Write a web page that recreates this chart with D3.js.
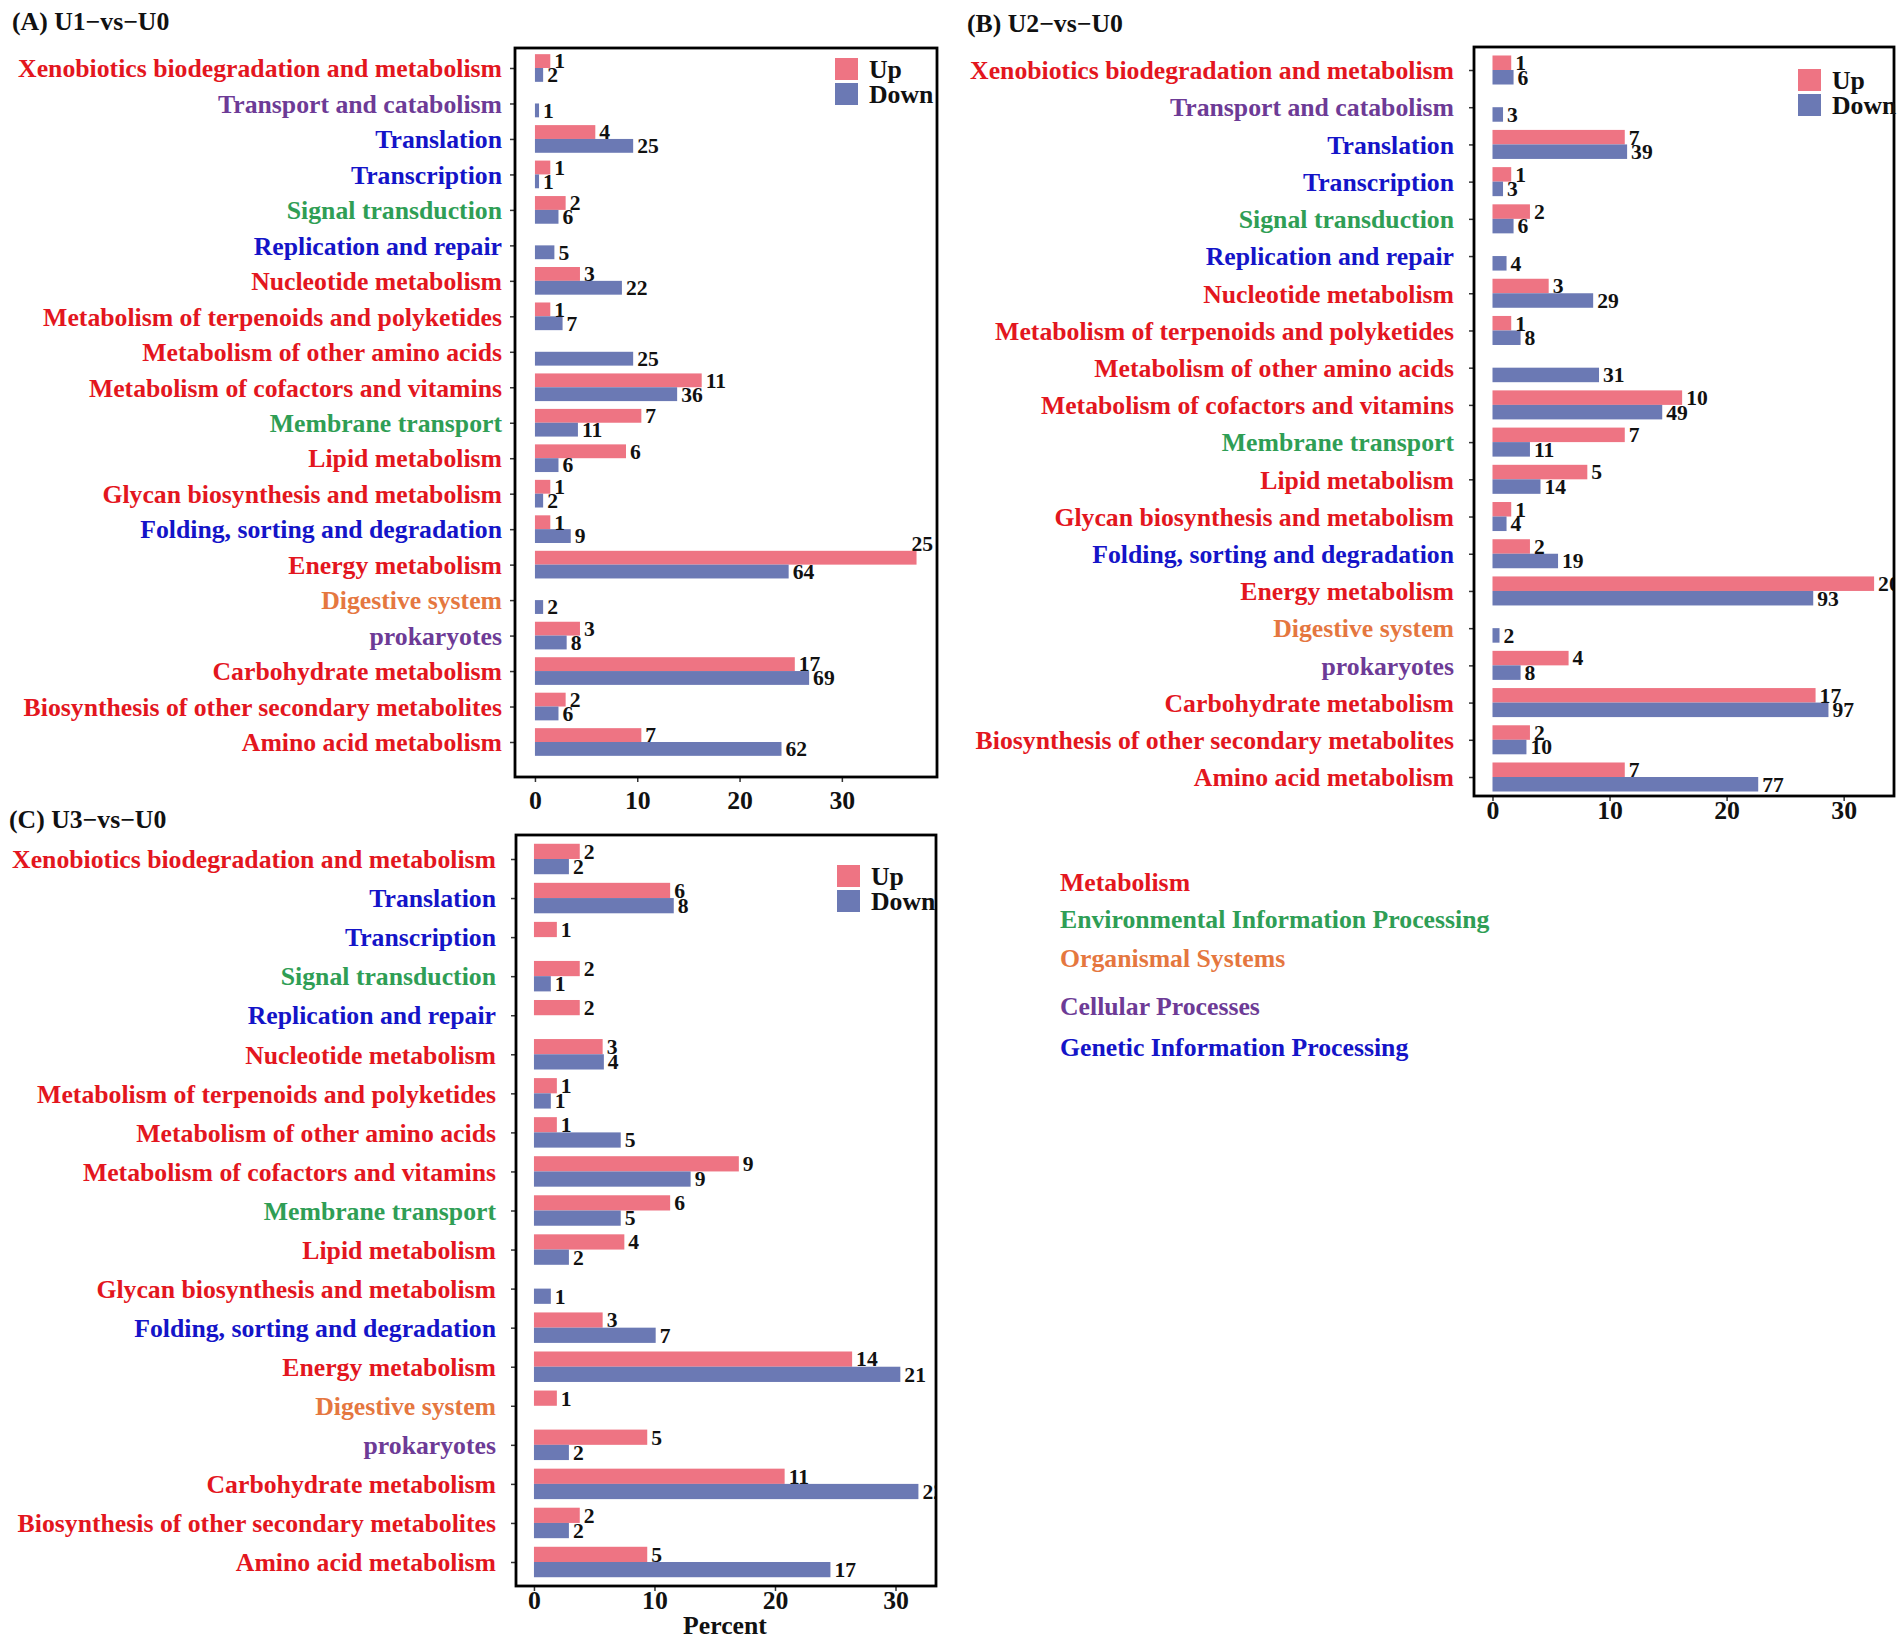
<!DOCTYPE html>
<html>
<head>
<meta charset="utf-8">
<script src="https://cdn.jsdelivr.net/npm/d3@7"></script>
<style>
  body { margin: 0; background: #fff; }
  svg text { font-family: 'Liberation Serif', 'Times New Roman', serif; font-weight: bold; }
</style>
</head>
<body>
<svg id="chart" width="1902" height="1647"></svg>
<script>
// KEGG level-2 categories (top to bottom)
const categoriesAB = [
  'Xenobiotics biodegradation and metabolism', 'Transport and catabolism', 'Translation',
  'Transcription', 'Signal transduction', 'Replication and repair', 'Nucleotide metabolism',
  'Metabolism of terpenoids and polyketides', 'Metabolism of other amino acids',
  'Metabolism of cofactors and vitamins', 'Membrane transport', 'Lipid metabolism',
  'Glycan biosynthesis and metabolism', 'Folding, sorting and degradation', 'Energy metabolism',
  'Digestive system', 'prokaryotes', 'Carbohydrate metabolism',
  'Biosynthesis of other secondary metabolites', 'Amino acid metabolism'
];
const categoriesC = categoriesAB.filter(d => d !== 'Transport and catabolism');

// level-1 groups and the colour used for their labels
const groups = ['Metabolism', 'Environmental Information Processing', 'Organismal Systems',
  'Cellular Processes', 'Genetic Information Processing'];
const groupColors = ['#e3161e', '#2f9e55', '#e5773f', '#6d3b96', '#1414c8'];
const categoryGroup = {
  'Xenobiotics biodegradation and metabolism': 'Metabolism',
  'Transport and catabolism': 'Cellular Processes',
  'Translation': 'Genetic Information Processing',
  'Transcription': 'Genetic Information Processing',
  'Signal transduction': 'Environmental Information Processing',
  'Replication and repair': 'Genetic Information Processing',
  'Nucleotide metabolism': 'Metabolism',
  'Metabolism of terpenoids and polyketides': 'Metabolism',
  'Metabolism of other amino acids': 'Metabolism',
  'Metabolism of cofactors and vitamins': 'Metabolism',
  'Membrane transport': 'Environmental Information Processing',
  'Lipid metabolism': 'Metabolism',
  'Glycan biosynthesis and metabolism': 'Metabolism',
  'Folding, sorting and degradation': 'Genetic Information Processing',
  'Energy metabolism': 'Metabolism',
  'Digestive system': 'Organismal Systems',
  'prokaryotes': 'Cellular Processes',
  'Carbohydrate metabolism': 'Metabolism',
  'Biosynthesis of other secondary metabolites': 'Metabolism',
  'Amino acid metabolism': 'Metabolism'
};

const series = ['Up', 'Down'];
const seriesColors = ['#ee7483', '#6b79b4'];
const xTicks = [0, 10, 20, 30];

// (A) U1-vs-U0 : gene counts (labels) and percent (bar length)
const upCountA   = [1, null, 4, 1, 2, null, 3, 1, null, 11, 7, 6, 1, 1, 25, null, 3, 17, 2, 7];
const upPctA     = [1.5, null, 5.9, 1.5, 3.0, null, 4.4, 1.5, null, 16.3, 10.4, 8.9, 1.5, 1.5, 37.3, null, 4.4, 25.4, 3.0, 10.4];
const downCountA = [2, 1, 25, 1, 6, 5, 22, 7, 25, 36, 11, 6, 2, 9, 64, 2, 8, 69, 6, 62];
const downPctA   = [0.8, 0.4, 9.6, 0.4, 2.3, 1.9, 8.5, 2.7, 9.6, 13.9, 4.2, 2.3, 0.8, 3.5, 24.8, 0.8, 3.1, 26.8, 2.3, 24.1];

// (B) U2-vs-U0
const upCountB   = [1, null, 7, 1, 2, null, 3, 1, null, 10, 7, 5, 1, 2, 20, null, 4, 17, 2, 7];
const upPctB     = [1.6, null, 11.3, 1.6, 3.2, null, 4.8, 1.6, null, 16.2, 11.3, 8.1, 1.6, 3.2, 32.6, null, 6.5, 27.6, 3.2, 11.3];
const downCountB = [6, 3, 39, 3, 6, 4, 29, 8, 31, 49, 11, 14, 4, 19, 93, 2, 8, 97, 10, 77];
const downPctB   = [1.8, 0.9, 11.5, 0.9, 1.8, 1.2, 8.6, 2.4, 9.1, 14.5, 3.2, 4.1, 1.2, 5.6, 27.4, 0.6, 2.4, 28.7, 2.9, 22.7];

// (C) U3-vs-U0
const upCountC   = [2, 6, 1, 2, 2, 3, 1, 1, 9, 6, 4, null, 3, 14, 1, 5, 11, 2, 5];
const upPctC     = [3.8, 11.3, 1.9, 3.8, 3.8, 5.7, 1.9, 1.9, 17.0, 11.3, 7.5, null, 5.7, 26.4, 1.9, 9.4, 20.8, 3.8, 9.4];
const downCountC = [2, 8, null, 1, null, 4, 1, 5, 9, 5, 2, 1, 7, 21, null, 2, 22, 2, 17];
const downPctC   = [2.9, 11.6, null, 1.4, null, 5.8, 1.4, 7.2, 13.0, 7.2, 2.9, 1.4, 10.1, 30.4, null, 2.9, 31.9, 2.9, 24.6];

const SX = 1.03;          // the source text is a touch wider than Times
const FS = 25;            // main font size
const FS_VAL = 21;        // bar value labels
const svg = d3.select('#chart');
const groupColor = d3.scaleOrdinal().domain(groups).range(groupColors);
const seriesColor = d3.scaleOrdinal().domain(series).range(seriesColors);

const panels = [
  { id: 'A', title: '(A) U1\u2212vs\u2212U0', titlePos: [12, 30],
    cats: categoriesAB, up: [upCountA, upPctA], down: [downCountA, downPctA],
    box: { l: 515, t: 48, r: 937, b: 777 }, padTop: 20, padBottom: 35, xDomain: [-1.95, 39.3],
    labelGap: 13, tickLabelOffset: 23, legend: [835, 58], fitLabels: true },
  { id: 'B', title: '(B) U2\u2212vs\u2212U0', titlePos: [967, 32],
    cats: categoriesAB, up: [upCountB, upPctB], down: [downCountB, downPctB],
    box: { l: 1474, t: 47, r: 1894, b: 796 }, padTop: 23, padBottom: 19, xDomain: [-1.58, 34.3],
    labelGap: 20, tickLabelOffset: 14, legend: [1798, 69], fitLabels: false },
  { id: 'C', title: '(C) U3\u2212vs\u2212U0', titlePos: [9, 828],
    cats: categoriesC, up: [upCountC, upPctC], down: [downCountC, downPctC],
    box: { l: 516, t: 835, r: 936, b: 1586 }, padTop: 24, padBottom: 24, xDomain: [-1.49, 33.36],
    labelGap: 20, tickLabelOffset: 14, legend: [837, 865], fitLabels: false, xTitle: 'Percent' }
];

const stretch = (sel, x, y) => sel.attr('x', 0).attr('y', 0)
  .attr('transform', `translate(${x},${y}) scale(${SX},1)`);

panels.forEach(p => {
  const { box } = p;
  const g = svg.append('g').attr('class', `panel panel-${p.id}`);

  const xScale = d3.scaleLinear().domain(p.xDomain).range([box.l, box.r]);
  const yScale = d3.scalePoint().domain(p.cats).range([box.t + p.padTop, box.b - p.padBottom]);
  const step = yScale.step();
  const barH = step * 0.39;

  // title
  g.append('text').text(p.title).attr('font-size', FS).attr('fill', '#111')
    .call(stretch, p.titlePos[0], p.titlePos[1]);

  // clip for marks / labels
  g.append('clipPath').attr('id', `clip-${p.id}`)
    .append('rect').attr('x', box.l).attr('y', box.t)
    .attr('width', box.r - box.l).attr('height', box.b - box.t);
  const plot = g.append('g').attr('clip-path', `url(#clip-${p.id})`);

  // flatten into bar records
  const rows = [];
  p.cats.forEach((c, i) => {
    if (p.up[1][i] != null) rows.push({ cat: c, s: 'Up', n: p.up[0][i], pct: p.up[1][i] });
    if (p.down[1][i] != null) rows.push({ cat: c, s: 'Down', n: p.down[0][i], pct: p.down[1][i] });
  });
  const barY = d => d.s === 'Up' ? yScale(d.cat) - barH : yScale(d.cat);

  plot.selectAll('.bar').data(rows).enter().append('rect')
    .attr('class', 'bar')
    .attr('x', xScale(0))
    .attr('y', barY)
    .attr('width', d => xScale(d.pct) - xScale(0))
    .attr('height', barH)
    .attr('fill', d => seriesColor(d.s));

  plot.selectAll('.val').data(rows).enter().append('text')
    .attr('class', 'val')
    .attr('font-size', FS_VAL)
    .attr('fill', '#111')
    .attr('dy', '0.35em')
    .text(d => d.n)
    .each(function (d) {
      let x = xScale(d.pct) + 4;
      let y = barY(d) + barH / 2;
      const w = this.getComputedTextLength() * SX;
      const sel = d3.select(this);
      if (p.fitLabels && x + w > box.r) {
        // squeeze label inside the panel, above its bar
        sel.attr('text-anchor', 'end');
        x = box.r - 4;
        y -= barH;
      }
      sel.call(stretch, x, y);
    });

  // y axis (category ticks + coloured labels)
  const yAxis = d3.axisLeft(yScale).tickSize(5).tickSizeOuter(0);
  const yAxisG = g.append('g').attr('transform', `translate(${box.l},0)`).call(yAxis);
  yAxisG.select('.domain').remove();
  yAxisG.selectAll('.tick line').attr('stroke', '#333').attr('stroke-width', 1.5);
  yAxisG.selectAll('.tick text')
    .attr('font-size', FS)
    .attr('font-family', null)
    .attr('fill', d => groupColor(categoryGroup[d]))
    .attr('dy', '0.35em')
    .each(function () {
      d3.select(this).call(stretch, -p.labelGap, 0);
    });

  // x axis
  const xAxis = d3.axisBottom(xScale).tickValues(xTicks).tickSize(5).tickSizeOuter(0);
  const xAxisG = g.append('g').attr('transform', `translate(0,${box.b})`).call(xAxis);
  xAxisG.select('.domain').remove();
  xAxisG.selectAll('.tick line').attr('stroke', '#333').attr('stroke-width', 1.5);
  xAxisG.selectAll('.tick text')
    .attr('font-size', FS)
    .attr('font-family', null)
    .attr('fill', '#111')
    .attr('dy', '0.35em')
    .each(function () {
      d3.select(this).call(stretch, 0, p.tickLabelOffset);
    });

  if (p.xTitle) {
    g.append('text').text(p.xTitle).attr('font-size', FS).attr('fill', '#111')
      .attr('text-anchor', 'middle')
      .call(stretch, 725, box.b + 48);
  }

  // panel border
  g.append('rect')
    .attr('x', box.l).attr('y', box.t)
    .attr('width', box.r - box.l).attr('height', box.b - box.t)
    .attr('fill', 'none').attr('stroke', '#000').attr('stroke-width', 2.8);

  // Up / Down legend
  const lg = g.append('g').attr('transform', `translate(${p.legend[0]},${p.legend[1]})`);
  series.forEach((s, i) => {
    lg.append('rect').attr('x', 0).attr('y', i * 25)
      .attr('width', 23).attr('height', 22).attr('fill', seriesColor(s));
    lg.append('text').text(s).attr('font-size', FS).attr('fill', '#111')
      .attr('dy', '0.35em')
      .call(stretch, 34, i * 25 + 11);
  });
});

// colour key for the level-1 groups
const keyY = [882, 919, 958, 1006, 1047];
const key = svg.append('g').attr('class', 'group-key');
groups.forEach((grp, i) => {
  key.append('text').text(grp)
    .attr('font-size', FS)
    .attr('fill', groupColor(grp))
    .attr('dy', '0.35em')
    .call(stretch, 1060, keyY[i]);
});
</script>
</body>
</html>
